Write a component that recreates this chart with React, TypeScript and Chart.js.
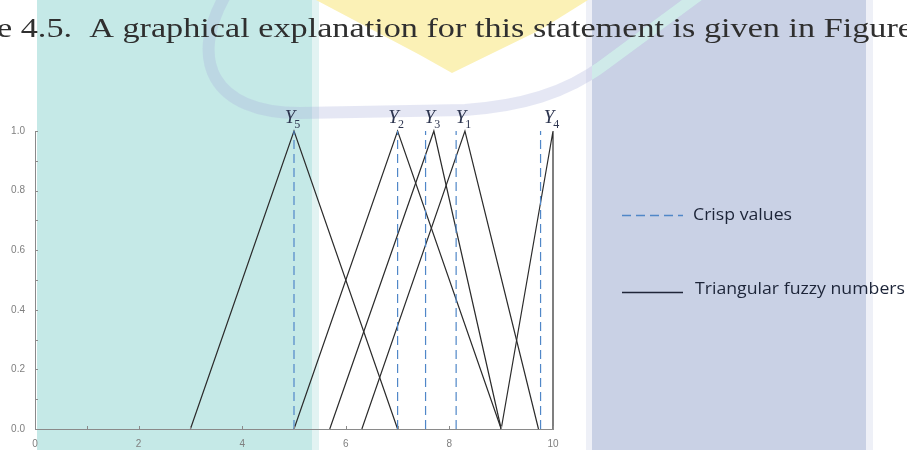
import React, { useEffect, useRef } from 'react';
import { Chart, registerables } from 'chart.js';

Chart.register(...registerables);

// Triangular fuzzy numbers (lower, peak, upper) and their crisp (defuzzified) values
const fuzzyNames = ['Y1', 'Y2', 'Y3', 'Y4', 'Y5'];
const lowerBounds = [6.31, 5.0, 5.69, 9.0, 3.0];
const peakValues = [8.3, 7.0, 7.7, 10.0, 5.0];
const upperBounds = [9.72, 9.0, 9.0, 10.0, 7.0];
const crispValues = [8.13, 7.0, 7.54, 9.76, 5.0];

const xTickLabels = ['0', '2', '4', '6', '8', '10'];
const yTickLabels = ['0.0', '0.2', '0.4', '0.6', '0.8', '1.0'];
const legendLabels = ['Crisp values', 'Triangular fuzzy numbers'];
const headline = 'e 4.5.  A graphical explanation for this statement is given in Figure';

const W = 907;
const H = 450;
const LINE_COLOR = '#2b2b2b';
const CRISP_COLOR = '#5087c8';
const AXIS_COLOR = '#8a8a8a';

const pagePlugin = {
  id: 'pageBackdrop',
  beforeDraw(chart: any) {
    const ctx = chart.ctx as CanvasRenderingContext2D;
    ctx.save();
    ctx.fillStyle = '#ffffff';
    ctx.fillRect(0, 0, W, H);

    // coloured page blocks
    ctx.fillStyle = '#e2f3f2';
    ctx.fillRect(312, 0, 7, H);
    ctx.fillStyle = '#c5e9e7';
    ctx.fillRect(37, 0, 275, H);

    ctx.fillStyle = '#eef0f7';
    ctx.fillRect(586, 0, 287, H);
    ctx.fillStyle = '#c9d1e5';
    ctx.fillRect(592, 0, 274, H);

    // yellow chevron
    ctx.fillStyle = '#fbf1b6';
    ctx.beginPath();
    ctx.moveTo(316, 0);
    ctx.lineTo(588, 0);
    ctx.lineTo(540, 30);
    ctx.lineTo(452, 73);
    ctx.lineTo(420, 55);
    ctx.closePath();
    ctx.fill();

    // curved watermark band
    const band = () => {
      ctx.beginPath();
      ctx.moveTo(226, -6);
      ctx.bezierCurveTo(188, 60, 212, 113, 300, 113);
      ctx.lineTo(465, 110);
      ctx.bezierCurveTo(520, 106, 565, 94, 605, 64);
      ctx.lineTo(700, -6);
    };
    ctx.lineCap = 'butt';
    ctx.lineWidth = 12;
    ctx.strokeStyle = 'rgba(170,176,220,0.3)';
    band();
    ctx.stroke();
    ctx.save();
    ctx.beginPath();
    ctx.rect(592, 0, 274, H);
    ctx.clip();
    ctx.strokeStyle = '#cfeae9';
    band();
    ctx.stroke();
    ctx.restore();

    // running text line above the figure
    ctx.fillStyle = '#2f2f2f';
    ctx.font = '28px "Liberation Serif"';
    ctx.textBaseline = 'alphabetic';
    const w = ctx.measureText(headline).width;
    ctx.translate(-3, 37);
    ctx.scale(916 / w, 1);
    ctx.fillText(headline, 0, 0);
    ctx.restore();
  },
  afterDraw(chart: any) {
    const ctx = chart.ctx as CanvasRenderingContext2D;
    const xs = chart.scales.x;
    const ys = chart.scales.y;
    const area = chart.chartArea;
    ctx.save();

    // inward tick marks
    ctx.strokeStyle = AXIS_COLOR;
    ctx.lineWidth = 1;
    ctx.beginPath();
    xs.ticks.forEach((t: any) => {
      const px = Math.round(xs.getPixelForValue(t.value)) + 0.5;
      ctx.moveTo(px, area.bottom);
      ctx.lineTo(px, area.bottom - 3);
    });
    ys.ticks.forEach((t: any) => {
      const py = Math.round(ys.getPixelForValue(t.value)) + 0.5;
      ctx.moveTo(area.left, py);
      ctx.lineTo(area.left + 3, py);
    });
    ctx.stroke();

    // names over the peaks
    ctx.fillStyle = '#2e3650';
    ctx.textBaseline = 'alphabetic';
    const top = ys.getPixelForValue(1);
    fuzzyNames.forEach((name, i) => {
      const px = xs.getPixelForValue(peakValues[i]);
      ctx.font = 'italic 19px "Liberation Serif"';
      const wy = ctx.measureText(name[0]).width;
      ctx.font = '12px "Liberation Serif"';
      const ws = ctx.measureText(name.slice(1)).width;
      const x0 = px - (wy + ws) / 2 - 1;
      ctx.font = 'italic 19px "Liberation Serif"';
      ctx.fillText(name[0], x0, top - 8);
      ctx.font = '12px "Liberation Serif"';
      ctx.fillText(name.slice(1), x0 + wy - 1, top - 3);
    });

    // legend
    ctx.lineWidth = 1.3;
    ctx.strokeStyle = CRISP_COLOR;
    ctx.setLineDash([9, 5]);
    ctx.beginPath();
    ctx.moveTo(622, 215.5);
    ctx.lineTo(683, 215.5);
    ctx.stroke();
    ctx.setLineDash([]);
    ctx.strokeStyle = '#1f2538';
    ctx.beginPath();
    ctx.moveTo(622, 292.5);
    ctx.lineTo(683, 292.5);
    ctx.stroke();

    ctx.fillStyle = '#1c2438';
    ctx.font = '17px "Open Sans"';
    ctx.textBaseline = 'middle';
    const targets = [
      { text: legendLabels[0], x: 693, y: 215, w: 99 },
      { text: legendLabels[1], x: 695, y: 289, w: 210 },
    ];
    targets.forEach((t) => {
      const m = ctx.measureText(t.text).width;
      ctx.save();
      ctx.translate(t.x, t.y);
      ctx.scale(t.w / m, 1);
      ctx.fillText(t.text, 0, 0);
      ctx.restore();
    });
    ctx.restore();
  },
};

export default function App() {
  const canvasRef = useRef<HTMLCanvasElement | null>(null);

  useEffect(() => {
    if (!canvasRef.current) return;

    const triangleSets = fuzzyNames.map((name, i) => ({
      label: name,
      data: [
        { x: lowerBounds[i], y: 0 },
        { x: peakValues[i], y: 1 },
        { x: upperBounds[i], y: 0 },
      ],
      borderColor: LINE_COLOR,
      borderWidth: 1.2,
      pointRadius: 0,
      tension: 0,
      fill: false,
      clip: false as any,
    }));

    const crispSets = crispValues.map((c, i) => ({
      label: fuzzyNames[i] + ' crisp',
      data: [
        { x: c, y: 0 },
        { x: c, y: 1 },
      ],
      borderColor: CRISP_COLOR,
      borderWidth: 1.2,
      borderDash: [9, 5],
      pointRadius: 0,
      fill: false,
      clip: false as any,
    }));

    const chart = new Chart(canvasRef.current, {
      type: 'line',
      data: { datasets: [...crispSets, ...triangleSets] as any },
      plugins: [pagePlugin],
      options: {
        responsive: false,
        animation: false,
        events: [],
        layout: { padding: { top: 131, right: 354, bottom: 0, left: 0 } },
        plugins: { legend: { display: false }, tooltip: { enabled: false } },
        scales: {
          x: {
            type: 'linear',
            min: 0,
            max: 10,
            afterFit: (s: any) => {
              s.height = 21;
            },
            grid: { display: false, drawTicks: false },
            border: { display: true, color: AXIS_COLOR, width: 1 },
            ticks: {
              stepSize: 1,
              autoSkip: false,
              maxRotation: 0,
              padding: 9,
              color: '#7f7f7f',
              font: { size: 10, family: 'Liberation Sans' },
              callback: (v: any) => {
                const s = String(v);
                return xTickLabels.includes(s) ? s : '';
              },
            },
          },
          y: {
            type: 'linear',
            min: 0,
            max: 1,
            afterFit: (s: any) => {
              s.width = 35;
            },
            grid: { display: false, drawTicks: false },
            border: { display: true, color: AXIS_COLOR, width: 1 },
            ticks: {
              stepSize: 0.1,
              autoSkip: false,
              padding: 10,
              color: '#7f7f7f',
              font: { size: 10, family: 'Liberation Sans' },
              callback: (v: any) => {
                const s = Number(v).toFixed(1);
                const even = Math.round(Number(v) * 10) % 2 === 0;
                return even && yTickLabels.includes(s) ? s : '';
              },
            },
          },
        },
      },
    });

    return () => chart.destroy();
  }, []);

  return (
    <div style={{ position: 'fixed', left: 0, top: 0, width: W, height: H, overflow: 'hidden' }}>
      <canvas ref={canvasRef} width={W} height={H} style={{ display: 'block', width: W, height: H }} />
    </div>
  );
}
